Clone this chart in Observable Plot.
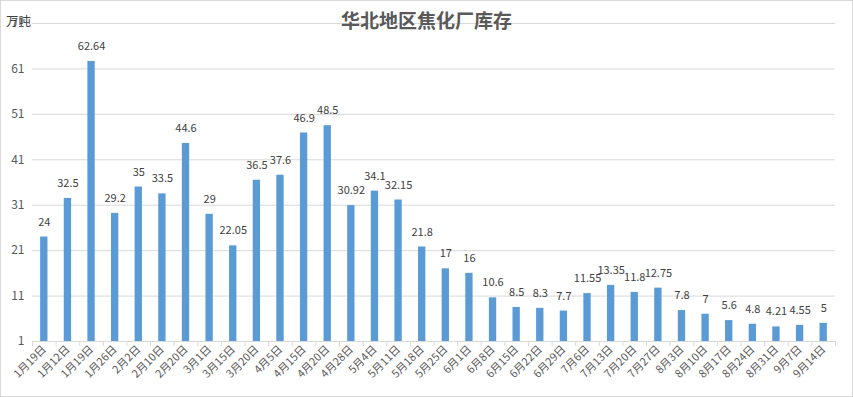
<!DOCTYPE html>
<html>
<head>
<meta charset="utf-8">
<script src="https://cdn.jsdelivr.net/npm/d3@7"></script>
<script src="https://cdn.jsdelivr.net/npm/@observablehq/plot@0.6"></script>
<style>
  html, body { margin: 0; padding: 0; background: #fff; }
  #wrap { position: relative; width: 853px; height: 397px; overflow: hidden; font-family: "Noto Sans CJK SC", "Noto Sans", sans-serif; }
  #border { position: absolute; left: 0; top: 0; width: 851px; height: 395px; border: 1px solid #d9d9d9; pointer-events: none; }
  #title { position: absolute; left: 0; width: 853px; top: 6px; text-align: center; font-size: 19px; font-weight: bold; color: #595959; }
  #unit { position: absolute; left: 6px; top: 11px; font-size: 12.5px; color: #404040; }
</style>
</head>
<body>
<div id="wrap">
  <div id="chart"></div>
  <div id="title">华北地区焦化厂库存</div>
  <div id="unit">万吨</div>
  <div id="border"></div>
</div>
<script>
const labels = ["1月19日","1月12日","1月19日","1月26日","2月2日","2月10日","2月20日","3月1日","3月15日","3月20日","4月5日","4月15日","4月20日","4月28日","5月4日","5月11日","5月18日","5月25日","6月1日","6月8日","6月15日","6月22日","6月29日","7月6日","7月13日","7月20日","7月27日","8月3日","8月10日","8月17日","8月24日","8月31日","9月7日","9月14日"];
const values = [24,32.5,62.64,29.2,35,33.5,44.6,29,22.05,36.5,37.6,46.9,48.5,30.92,34.1,32.15,21.8,17,16,10.6,8.5,8.3,7.7,11.55,13.35,11.8,12.75,7.8,7,5.6,4.8,4.21,4.55,5];
const yTicks = [1,11,21,31,41,51,61,71];

const data = values.map((v, i) => ({i, v, label: labels[i]}));
const idx = d3.range(labels.length);

const W = 853, H = 397, mL = 32, mR = 18, mT = 23, mB = 56;
const step = (W - mL - mR) / labels.length;

const chart = Plot.plot({
  width: W, height: H,
  marginLeft: mL, marginRight: mR, marginTop: mT, marginBottom: mB,
  style: {fontFamily: '"Noto Sans CJK SC", "Noto Sans", sans-serif', fontSize: "11px", color: "#595959", background: "transparent"},
  x: {type: "band", domain: idx, paddingInner: 0.69, paddingOuter: 0.345, round: false, label: null},
  y: {domain: [1, 71], label: null},
  marks: [
    Plot.gridY(yTicks, {stroke: "#d9d9d9", strokeOpacity: 1}),
    Plot.axisY(yTicks, {tickSize: 0, tickPadding: 8, fontSize: 12, fill: "#595959", label: null}),
    Plot.barY(data, {x: "i", y1: 1, y2: "v", fill: "#5B9BD5"}),
    Plot.ruleY([1], {stroke: "#d9d9d9"}),
    Plot.ruleX(idx, {x: d => d, dx: -step / 2, stroke: "#d9d9d9", insetTop: H - mT - mB, insetBottom: -5}),
    Plot.ruleX([idx[idx.length - 1]], {x: d => d, dx: step / 2, stroke: "#d9d9d9", insetTop: H - mT - mB, insetBottom: -5}),
    Plot.text(data, {x: "i", y: "v", text: d => String(d.v), dy: -15, fill: "#404040", fontSize: 11}),
    Plot.axisX(idx, {tickSize: 0, tickPadding: 6, tickRotate: -45, tickFormat: i => labels[i], fontSize: 11, fill: "#595959", label: null})
  ]
});
document.getElementById("chart").appendChild(chart);
</script>
</body>
</html>
